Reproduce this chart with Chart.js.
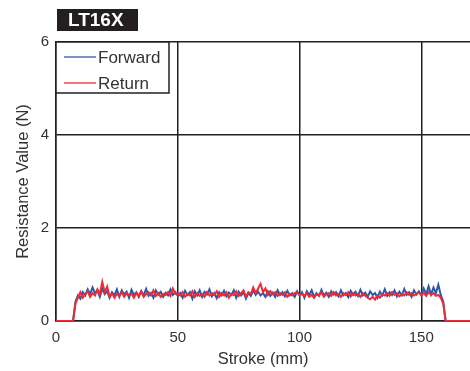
<!DOCTYPE html>
<html>
<head>
<meta charset="utf-8">
<script src="https://cdn.jsdelivr.net/npm/chart.js@4"></script>
<style>
  html, body { margin: 0; padding: 0; background: #fff; }
  #wrap { width: 470px; height: 371px; position: relative; }
</style>
</head>
<body>
<div id="wrap"><canvas id="resistanceChart" width="470" height="371"></canvas></div>
<script>
// stroke positions run 0..170 mm in 1 mm steps, values in N
const seriesLabels = ["Forward", "Return"];
const xTicks = [0, 50, 100, 150];
const yTicks = [0, 2, 4, 6];

const forward = [
  0, 0, 0, 0, 0, 0, 0, 0,
  0.42, 0.55, 0.48, 0.62, 0.55, 0.68, 0.58, 0.72, 0.60, 0.66, 0.52, 0.70,
  0.58, 0.64, 0.50, 0.62, 0.55, 0.68, 0.52, 0.66, 0.57, 0.63, 0.50, 0.67,
  0.56, 0.62, 0.52, 0.64, 0.55, 0.69, 0.54, 0.60, 0.50, 0.66, 0.57, 0.63,
  0.52, 0.61, 0.55, 0.68, 0.56, 0.62, 0.54, 0.60, 0.50, 0.65, 0.56, 0.62,
  0.48, 0.64, 0.55, 0.66, 0.52, 0.63, 0.57, 0.68, 0.53, 0.60, 0.49, 0.62,
  0.55, 0.65, 0.53, 0.61, 0.56, 0.66, 0.50, 0.63, 0.55, 0.62, 0.48, 0.60,
  0.54, 0.66, 0.56, 0.63, 0.55, 0.60, 0.52, 0.64, 0.54, 0.61, 0.52, 0.66,
  0.56, 0.62, 0.53, 0.65, 0.55, 0.60, 0.52, 0.64, 0.55, 0.62, 0.50, 0.64,
  0.56, 0.66, 0.52, 0.60, 0.54, 0.67, 0.55, 0.61, 0.52, 0.64, 0.57, 0.62,
  0.53, 0.66, 0.55, 0.60, 0.51, 0.65, 0.56, 0.63, 0.54, 0.67, 0.55, 0.61,
  0.52, 0.64, 0.56, 0.60, 0.50, 0.63, 0.55, 0.68, 0.54, 0.62, 0.56, 0.66,
  0.53, 0.63, 0.55, 0.69, 0.56, 0.62, 0.52, 0.66, 0.57, 0.64, 0.55, 0.70,
  0.58, 0.75, 0.57, 0.72, 0.60, 0.78, 0.56, 0.42, 0,
  0, 0, 0, 0, 0, 0, 0, 0, 0, 0
];

const ret = [
  0, 0, 0, 0, 0, 0, 0, 0,
  0.38, 0.50, 0.62, 0.50, 0.58, 0.64, 0.52, 0.60, 0.55, 0.68, 0.58, 0.84,
  0.62, 0.74, 0.52, 0.60, 0.50, 0.58, 0.54, 0.62, 0.52, 0.60, 0.56, 0.58,
  0.50, 0.60, 0.54, 0.64, 0.52, 0.58, 0.62, 0.55, 0.66, 0.54, 0.60, 0.52,
  0.58, 0.56, 0.62, 0.54, 0.70, 0.58, 0.60, 0.55, 0.62, 0.52, 0.58, 0.55,
  0.64, 0.52, 0.60, 0.54, 0.58, 0.52, 0.62, 0.55, 0.60, 0.56, 0.64, 0.52,
  0.60, 0.55, 0.62, 0.50, 0.58, 0.56, 0.64, 0.54, 0.60, 0.66, 0.52, 0.62,
  0.58, 0.72, 0.60, 0.70, 0.80, 0.62, 0.70, 0.56, 0.64, 0.58, 0.62, 0.54,
  0.60, 0.56, 0.62, 0.52, 0.58, 0.55, 0.60, 0.62, 0.56, 0.58, 0.54, 0.60,
  0.52, 0.56, 0.50, 0.58, 0.55, 0.62, 0.52, 0.58, 0.60, 0.54, 0.62, 0.55,
  0.58, 0.52, 0.60, 0.56, 0.62, 0.53, 0.60, 0.55, 0.58, 0.52, 0.60, 0.54,
  0.50, 0.47, 0.52, 0.46, 0.55, 0.50, 0.58, 0.55, 0.60, 0.54, 0.62, 0.56,
  0.60, 0.53, 0.58, 0.55, 0.62, 0.56, 0.60, 0.55, 0.58, 0.62, 0.56, 0.60,
  0.54, 0.62, 0.56, 0.60, 0.54, 0.56, 0.50, 0.38, 0,
  0, 0, 0, 0, 0, 0, 0, 0, 0, 0
];

const seriesColors = ["#2b5ba8", "#ee2a34"];
const FONT = "'Liberation Sans', Arial, sans-serif";
const INK = "#231f20";
const TEXT = "#333333";

function toPoints(arr) {
  return arr.map((v, i) => ({ x: i, y: v }));
}

// black title tag + boxed legend in the upper left corner
const decorPlugin = {
  id: "decor",
  afterDraw(chart) {
    const ctx = chart.ctx;
    const area = chart.chartArea;
    ctx.save();
    // title tag
    ctx.fillStyle = INK;
    ctx.fillRect(57, 9, 81, 22);
    ctx.fillStyle = "#fff";
    ctx.font = "bold 19px " + FONT;
    ctx.textBaseline = "middle";
    ctx.textAlign = "left";
    ctx.fillText("LT16X", 68, 21);

    // legend box
    const lx = area.left, ly = area.top, lw = 113, lh = 51;
    ctx.fillStyle = "#fff";
    ctx.fillRect(lx, ly, lw, lh);
    ctx.strokeStyle = INK;
    ctx.lineWidth = 1.5;
    ctx.strokeRect(lx, ly, lw, lh);
    ctx.font = "17px " + FONT;
    chart.data.datasets.forEach((ds, i) => {
      const yy = ly + 15 + i * 26;
      ctx.strokeStyle = ds.borderColor;
      ctx.lineWidth = 1.3;
      ctx.beginPath();
      ctx.moveTo(lx + 8, yy);
      ctx.lineTo(lx + 40, yy);
      ctx.stroke();
      ctx.fillStyle = TEXT;
      ctx.fillText(ds.label, lx + 42, yy + 1);
    });
    ctx.restore();
  }
};

new Chart(document.getElementById("resistanceChart"), {
  type: "line",
  data: {
    datasets: [
      { label: seriesLabels[0], data: toPoints(forward), borderColor: seriesColors[0], borderWidth: 2, pointRadius: 0, tension: 0, order: 1 },
      { label: seriesLabels[1], data: toPoints(ret), borderColor: seriesColors[1], borderWidth: 2, pointRadius: 0, tension: 0, order: 0 }
    ]
  },
  options: {
    responsive: false,
    animation: false,
    layout: { padding: { top: 42, right: 0, bottom: 0, left: 0 } },
    plugins: { legend: { display: false }, tooltip: { enabled: false } },
    scales: {
      x: {
        type: "linear",
        min: 0,
        max: 170,
        afterBuildTicks: s => { s.ticks = xTicks.map(v => ({ value: v })); },
        afterFit: s => { s.height = 50; },
        grid: { color: INK, lineWidth: 1.5, drawTicks: false },
        border: { color: INK, width: 1.5 },
        ticks: { color: TEXT, font: { family: FONT, size: 15 }, padding: 8, maxRotation: 0 },
        title: { display: true, text: "Stroke (mm)", color: TEXT, font: { family: FONT, size: 16.5 }, padding: { top: 2, bottom: 2 } }
      },
      y: {
        min: 0,
        max: 6,
        afterBuildTicks: s => { s.ticks = yTicks.map(v => ({ value: v })); },
        afterFit: s => { s.width = 56; },
        grid: { color: INK, lineWidth: 1.5, drawTicks: false },
        border: { color: INK, width: 1.5 },
        ticks: { color: TEXT, font: { family: FONT, size: 15 }, padding: 7 },
        title: { display: true, text: "Resistance Value (N)", color: TEXT, font: { family: FONT, size: 16.5 }, padding: { top: 14, bottom: 2 } }
      }
    }
  },
  plugins: [decorPlugin]
});
</script>
</body>
</html>
